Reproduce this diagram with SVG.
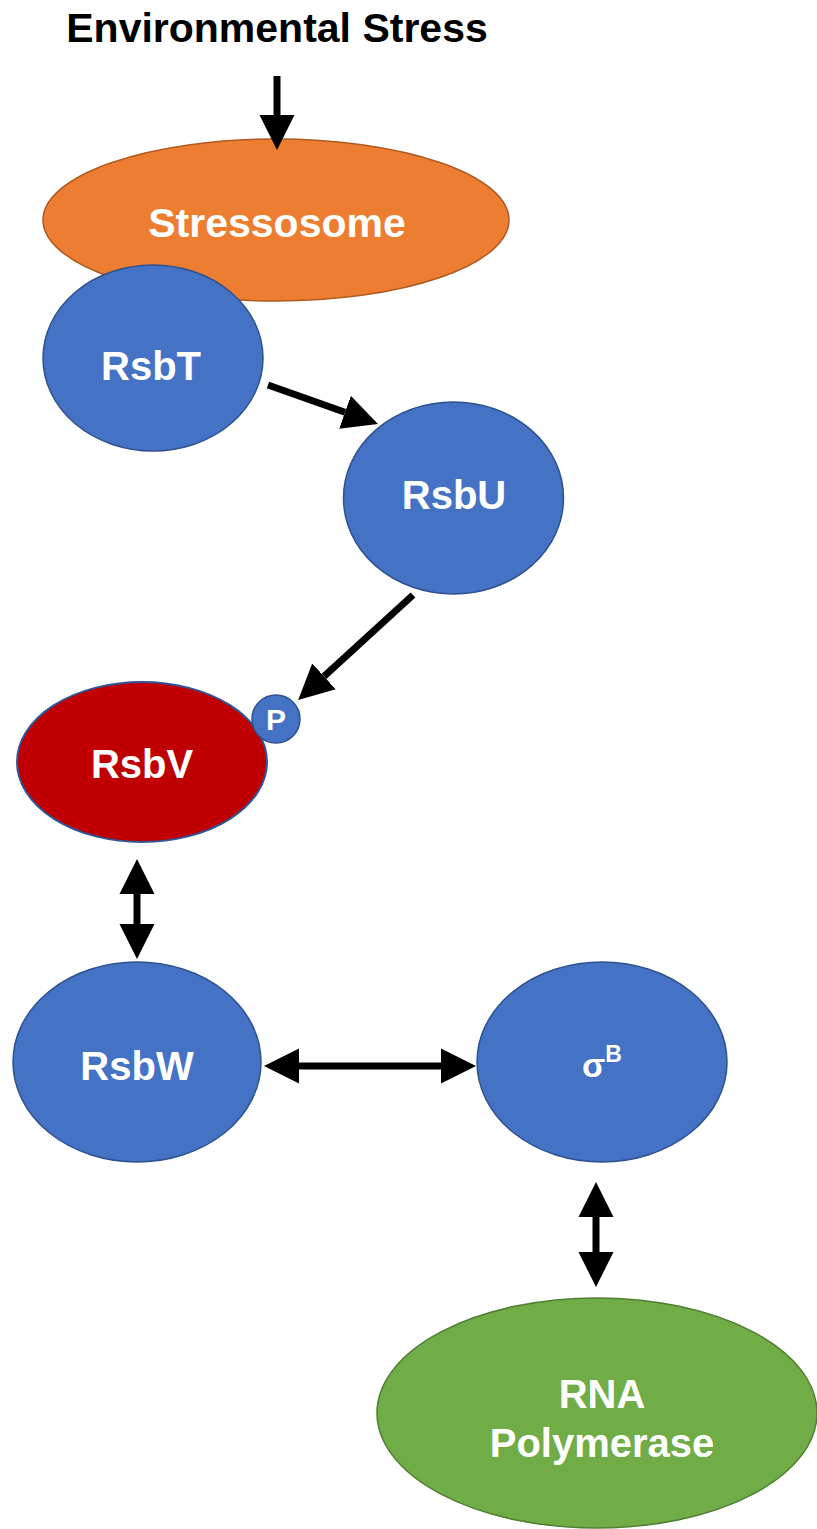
<svg xmlns="http://www.w3.org/2000/svg" width="817" height="1529" viewBox="0 0 817 1529">
<style>
.lbl{font-family:"Liberation Sans",Arial,sans-serif;font-weight:bold;fill:#ffffff;text-anchor:middle;font-size:40px}
.title{font-family:"Liberation Sans",Arial,sans-serif;font-weight:bold;fill:#000000;text-anchor:middle;font-size:41px}
.blue{fill:#4472C4;stroke:#2F528F;stroke-width:1.5}
.conn{stroke:#000000;stroke-width:7;fill:none}
</style>
<defs>
<marker id="ah" markerUnits="userSpaceOnUse" markerWidth="36" markerHeight="36" refX="0" refY="17.5" orient="auto-start-reverse" viewBox="0 0 36 35">
<path d="M0,0 L35,17.5 L0,35 Z" fill="#000000"/>
</marker>
</defs>
<rect width="817" height="1529" fill="#ffffff"/>
<text class="title" x="277" y="42">Environmental Stress</text>
<g id="stressosome">
<ellipse cx="276" cy="220" rx="233" ry="81" fill="#ED7D31" stroke="#AE5A21" stroke-width="1.5"/>
<text class="lbl" x="277" y="237" style="font-size:41px">Stressosome</text>
</g>
<g id="rsbT">
<ellipse class="blue" cx="153" cy="358" rx="110" ry="93"/>
<text class="lbl" x="151" y="380">RsbT</text>
</g>
<g id="rsbU">
<ellipse class="blue" cx="453.5" cy="498" rx="110" ry="96"/>
<text class="lbl" x="454" y="509">RsbU</text>
</g>
<g id="rsbV">
<ellipse cx="142" cy="762" rx="125" ry="80" fill="#C00000" stroke="#2F5597" stroke-width="2"/>
<text class="lbl" x="142" y="778">RsbV</text>
</g>
<g id="phosphate">
<circle class="blue" cx="276" cy="719" r="24"/>
<text class="lbl" x="276" y="730" style="font-size:30px">P</text>
</g>
<g id="rsbW">
<ellipse class="blue" cx="137" cy="1062" rx="124" ry="100"/>
<text class="lbl" x="137" y="1080">RsbW</text>
</g>
<g id="sigmaB">
<ellipse class="blue" cx="602" cy="1062" rx="125" ry="100"/>
<text class="lbl" x="602" y="1077" style="font-size:34px">σ<tspan dy="-15" style="font-size:23px">B</tspan></text>
</g>
<g id="rnaPolymerase">
<ellipse cx="597" cy="1413" rx="220" ry="115" fill="#70AD47" stroke="#507E32" stroke-width="1.5"/>
<text class="lbl" x="602" y="1408">RNA</text>
<text class="lbl" x="602" y="1457">Polymerase</text>
</g>
<g id="connectors">
<line class="conn" x1="277" y1="76" x2="277" y2="115" marker-end="url(#ah)"/>
<line class="conn" x1="268" y1="385" x2="345" y2="412.3" marker-end="url(#ah)"/>
<line class="conn" x1="413" y1="595" x2="324" y2="676.4" marker-end="url(#ah)"/>
<line class="conn" x1="137" y1="894" x2="137" y2="924" marker-start="url(#ah)" marker-end="url(#ah)"/>
<line class="conn" x1="299" y1="1066" x2="441" y2="1066" marker-start="url(#ah)" marker-end="url(#ah)"/>
<line class="conn" x1="596" y1="1217" x2="596" y2="1252" marker-start="url(#ah)" marker-end="url(#ah)"/>
</g>
</svg>
